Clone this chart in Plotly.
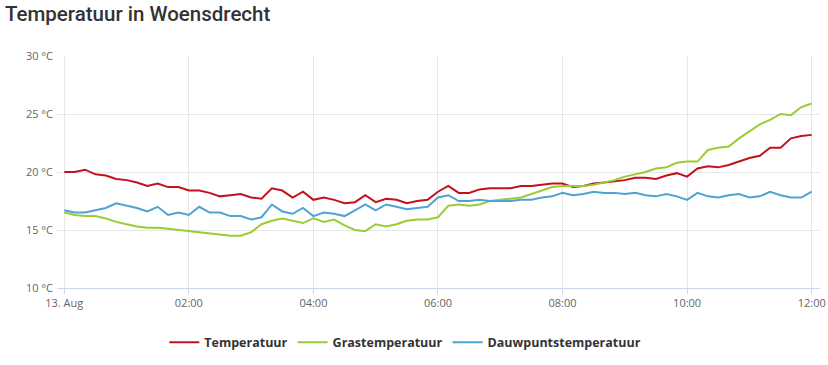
import pandas as pd
import plotly.graph_objects as go

times = pd.date_range("2023-08-13 00:00", periods=73, freq="10min")

temperatuur = [20.0, 20.0, 20.2, 19.8, 19.7, 19.4, 19.3, 19.1, 18.8, 19.0, 18.7, 18.7,
               18.4, 18.4, 18.2, 17.9, 18.0, 18.1, 17.8, 17.7, 18.6, 18.4, 17.8, 18.3,
               17.6, 17.8, 17.6, 17.3, 17.4, 18.0, 17.4, 17.7, 17.6, 17.3, 17.5, 17.6,
               18.3, 18.8, 18.2, 18.2, 18.5, 18.6, 18.6, 18.6, 18.8, 18.8, 18.9, 19.0,
               19.0, 18.7, 18.8, 19.0, 19.1, 19.2, 19.3, 19.5, 19.5, 19.4, 19.7, 19.9,
               19.6, 20.3, 20.5, 20.4, 20.6, 20.9, 21.2, 21.4, 22.1, 22.1, 22.9, 23.1,
               23.2]

grastemperatuur = [16.5, 16.3, 16.2, 16.2, 16.0, 15.7, 15.5, 15.3, 15.2, 15.2, 15.1, 15.0,
                   14.9, 14.8, 14.7, 14.6, 14.5, 14.5, 14.8, 15.5, 15.8, 16.0, 15.8, 15.6,
                   16.0, 15.7, 15.9, 15.4, 15.0, 14.9, 15.5, 15.3, 15.5, 15.8, 15.9, 15.9,
                   16.1, 17.1, 17.2, 17.1, 17.2, 17.5, 17.6, 17.7, 17.8, 18.1, 18.4, 18.7,
                   18.8, 18.8, 18.8, 18.9, 19.1, 19.3, 19.6, 19.8, 20.0, 20.3, 20.4, 20.8,
                   20.9, 20.9, 21.9, 22.1, 22.2, 22.9, 23.5, 24.1, 24.5, 25.0, 24.9, 25.6,
                   25.9]

dauwpunt = [16.7, 16.5, 16.5, 16.7, 16.9, 17.3, 17.1, 16.9, 16.6, 17.0, 16.3, 16.5,
            16.3, 17.0, 16.5, 16.5, 16.2, 16.2, 15.9, 16.1, 17.2, 16.6, 16.4, 16.9,
            16.2, 16.5, 16.4, 16.2, 16.7, 17.2, 16.7, 17.2, 17.0, 16.8, 16.9, 17.0,
            17.8, 18.0, 17.5, 17.5, 17.6, 17.5, 17.5, 17.5, 17.6, 17.6, 17.8, 17.9,
            18.2, 18.0, 18.1, 18.3, 18.2, 18.2, 18.1, 18.2, 18.0, 17.9, 18.1, 17.9,
            17.6, 18.2, 17.9, 17.8, 18.0, 18.1, 17.8, 17.9, 18.3, 18.0, 17.8, 17.8,
            18.3]

tick_times = ["2023-08-13 00:00", "2023-08-13 02:00", "2023-08-13 04:00",
              "2023-08-13 06:00", "2023-08-13 08:00", "2023-08-13 10:00",
              "2023-08-13 12:00"]
tick_labels = ["13. Aug", "02:00", "04:00", "06:00", "08:00", "10:00", "12:00"]

series = [
    ("Temperatuur", temperatuur, "#c2121d"),
    ("Grastemperatuur", grastemperatuur, "#9bcb35"),
    ("Dauwpuntstemperatuur", dauwpunt, "#4ea3d2"),
]

fig = go.Figure()
for name, vals, color in series:
    fig.add_trace(go.Scatter(x=times, y=vals, name=name, mode="lines",
                             line=dict(color=color, width=2)))

fig.update_layout(
    width=828, height=365,
    margin=dict(l=57, r=8, t=56, b=77),
    paper_bgcolor="white", plot_bgcolor="white",
    title=dict(text="Temperatuur in Woensdrecht", x=0.006, xanchor="left",
               y=0.962, yanchor="middle",
               font=dict(family="Roboto", size=20.5, color="#333333", weight=500)),
    legend=dict(orientation="h", x=0.4565, xanchor="center",
                y=-0.235, yanchor="middle",
                font=dict(family="Open Sans", size=12.5, color="#333333", weight="bold"),
                itemwidth=30),
    showlegend=True,
    hovermode="x unified",
)

fig.update_xaxes(
    range=["2023-08-12 23:53", "2023-08-13 12:08"],
    tickvals=tick_times, ticktext=tick_labels,
    showgrid=True, gridcolor="#e6e6e6", gridwidth=1,
    showline=True, linecolor="#ccd6eb", linewidth=1,
    ticks="outside", ticklen=5, tickcolor="#ccd6eb",
    tickfont=dict(family="Open Sans", size=11, color="#666666"),
    zeroline=False, automargin=False,
)
fig.update_yaxes(
    range=[10, 30], dtick=5, ticksuffix=" °C",
    showgrid=True, gridcolor="#e6e6e6", gridwidth=1,
    showline=False, zeroline=False,
    tickfont=dict(family="Open Sans", size=11, color="#666666"),
    ticks="", ticklabelstandoff=3, automargin=False,
)

fig.write_html("out.html", config={"displayModeBar": False},
               post_script="document.body.style.margin='0';")
